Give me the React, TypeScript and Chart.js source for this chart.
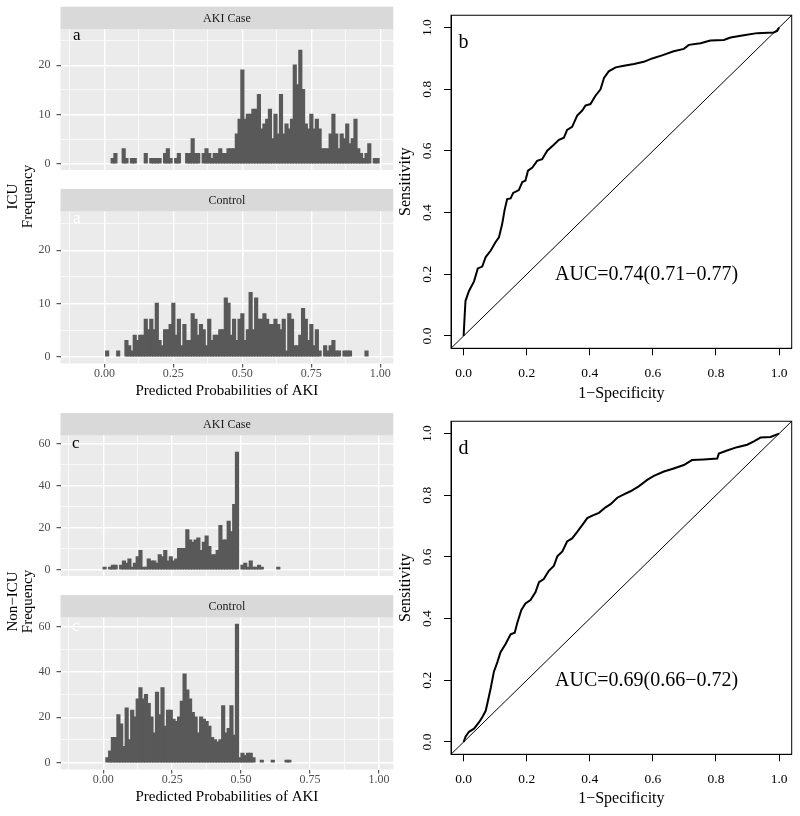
import React, { useEffect, useRef } from "react";
import { Chart, registerables } from "chart.js";

Chart.register(...registerables);
Chart.defaults.font.family = "'Liberation Serif', 'Times New Roman', serif";

// ---------- Histogram data (bin width 0.01) ----------
const binWidth = 0.01;
const icuFirstBinCenter = 0.01;
const nonIcuFirstBinCenter = 0.005;

const icuCaseCounts = [
  0, 0, 1, 2, 0, 0, 3, 1, 0, 1,
  1, 0, 0, 0, 2, 0, 1, 1, 1, 1,
  0, 2, 3, 1, 0, 1, 2, 0, 0, 2,
  2, 5, 2, 2, 0, 2, 3, 2, 1, 2,
  2, 3, 2, 2, 3, 3, 3, 6, 9, 19,
  9, 10, 10, 11, 11, 14, 7, 8, 9, 11,
  5, 10, 6, 14, 6, 8, 7, 9, 20, 16,
  23, 15, 8, 7, 10, 7, 9, 7, 3, 3,
  3, 6, 10, 6, 3, 6, 5, 8, 4, 5,
  9, 3, 2, 1, 2, 4, 0, 1, 1, 0,
];

const icuControlCounts = [
  1, 0, 0, 0, 1, 0, 0, 3, 2, 1,
  4, 3, 4, 4, 7, 5, 7, 5, 10, 3,
  2, 5, 5, 6, 10, 4, 7, 2, 6, 3,
  3, 8, 7, 4, 6, 5, 2, 7, 3, 4,
  4, 5, 5, 11, 10, 4, 7, 3, 7, 8,
  3, 5, 12, 5, 11, 7, 7, 8, 7, 6,
  6, 7, 6, 5, 7, 1, 8, 7, 2, 2,
  4, 9, 7, 3, 6, 2, 5, 1, 0, 2,
  1, 2, 3, 1, 1, 0, 1, 1, 1, 0,
  0, 0, 0, 0, 1, 0, 0, 0, 0, 0,
];

const nonIcuCaseCounts = [
  1, 0, 1, 2, 2, 0, 2, 4, 3, 5,
  1, 3, 6, 9, 1, 1, 5, 4, 4, 3,
  7, 6, 9, 4, 6, 4, 5, 10, 10, 10,
  19, 14, 13, 14, 15, 9, 13, 16, 11, 7,
  7, 9, 21, 14, 14, 23, 18, 31, 56, 0,
  2, 3, 1, 4, 1, 1, 2, 1, 0, 0,
  0, 0, 0, 1,
];

const nonIcuControlCounts = [
  0, 2, 5, 11, 11, 21, 17, 7, 24, 10,
  23, 20, 28, 33, 28, 30, 26, 20, 13, 31,
  21, 33, 16, 23, 23, 19, 18, 20, 27, 39,
  32, 28, 22, 20, 13, 20, 19, 18, 16, 11,
  10, 9, 10, 25, 13, 15, 25, 12, 61, 2,
  4, 3, 4, 4, 2, 0, 0, 1, 0, 0,
  0, 1, 0, 0, 0, 0, 1, 1,
];

const histXMajor = [0, 0.25, 0.5, 0.75, 1];
const histXMinor = [-0.125, 0.125, 0.375, 0.625, 0.875];
const icuYMajor = [0, 10, 20];
const icuYMinor = [5, 15, 25];
const nonIcuYMajor = [0, 20, 40, 60];
const nonIcuYMinor = [10, 30, 50];
const icuYRange = [-1.3, 27.3];
const nonIcuYRange = [-3.05, 64.05];
const icuXRange = [-0.159, 1.047];
const nonIcuXRange = [-0.155, 1.052];
const icuTagPos = [-0.1, 26];
const nonIcuTagPos = [-0.1, 60];

// ---------- ROC data ----------
const rocTicks = [0, 0.2, 0.4, 0.6, 0.8, 1.0];
const rocRange = [-0.04, 1.04];
const icuRocFpr = [0, 0.003, 0.006, 0.017, 0.033, 0.045, 0.059, 0.07, 0.086, 0.101, 0.112, 0.122, 0.13, 0.138, 0.149, 0.157, 0.175, 0.186, 0.196, 0.204, 0.218, 0.233, 0.249, 0.265, 0.286, 0.302, 0.318, 0.328, 0.344, 0.36, 0.376, 0.386, 0.402, 0.418, 0.434, 0.445, 0.46, 0.482, 0.508, 0.54, 0.571, 0.598, 0.629, 0.666, 0.698, 0.714, 0.751, 0.782, 0.825, 0.846, 0.888, 0.93, 0.983, 0.994, 1];
const icuRocTpr = [0, 0.06, 0.114, 0.146, 0.177, 0.219, 0.225, 0.256, 0.277, 0.304, 0.32, 0.362, 0.409, 0.444, 0.446, 0.464, 0.473, 0.499, 0.504, 0.536, 0.546, 0.568, 0.573, 0.601, 0.62, 0.636, 0.643, 0.668, 0.678, 0.715, 0.731, 0.747, 0.752, 0.779, 0.8, 0.837, 0.858, 0.871, 0.876, 0.882, 0.889, 0.9, 0.91, 0.923, 0.931, 0.944, 0.949, 0.958, 0.96, 0.968, 0.975, 0.982, 0.984, 0.989, 1];
const nonIcuRocFpr = [0, 0.006, 0.017, 0.033, 0.049, 0.059, 0.07, 0.077, 0.086, 0.096, 0.107, 0.117, 0.133, 0.149, 0.162, 0.17, 0.183, 0.196, 0.212, 0.228, 0.239, 0.254, 0.27, 0.286, 0.297, 0.313, 0.328, 0.344, 0.36, 0.376, 0.392, 0.408, 0.429, 0.45, 0.466, 0.487, 0.508, 0.529, 0.555, 0.582, 0.603, 0.635, 0.666, 0.698, 0.724, 0.761, 0.804, 0.809, 0.835, 0.867, 0.899, 0.92, 0.941, 0.973, 1];
const nonIcuRocTpr = [0, 0.017, 0.033, 0.043, 0.064, 0.08, 0.101, 0.133, 0.175, 0.228, 0.259, 0.291, 0.318, 0.349, 0.354, 0.386, 0.428, 0.449, 0.46, 0.486, 0.518, 0.528, 0.555, 0.571, 0.602, 0.618, 0.65, 0.66, 0.681, 0.703, 0.726, 0.734, 0.743, 0.761, 0.771, 0.792, 0.803, 0.813, 0.829, 0.85, 0.863, 0.877, 0.887, 0.898, 0.914, 0.916, 0.919, 0.935, 0.945, 0.956, 0.964, 0.975, 0.987, 0.989, 1];
const icuAucLabel = "AUC=0.74(0.71\u22120.77)";
const nonIcuAucLabel = "AUC=0.69(0.66\u22120.72)";
const rocTagPos = [0, 0.95];
const aucPos = [0.58, 0.2];

const SERIF = "'Liberation Serif', 'Times New Roman', serif";
const isIn = (arr: number[], v: number) => arr.some((m) => Math.abs(m - v) < 1e-9);

type HistOpts = {
  counts: number[];
  firstCenter: number;
  xRange: number[];
  yRange: number[];
  yMajor: number[];
  yMinor: number[];
  strip: string;
  stripHeight: number;
  tag: string;
  tagColor: string;
  tagPos: number[];
  showX: boolean;
  padTop: number;
  padBottom: number;
  xHeight: number;
  titlePadBottom: number;
  groupTitle?: { lines: string[]; xs: number[]; cy: number };
};

function histConfig(o: HistOpts): any {
  const data = o.counts
    .map((c, i) => ({ x: o.firstCenter + i * binWidth, y: c }))
    .filter((d) => d.y > 0);
  const xTickVals = [...histXMinor, ...histXMajor].sort((a, b) => a - b);
  const yTickVals = [...o.yMinor, ...o.yMajor].sort((a, b) => a - b);
  const plugin = {
    id: "ggPanel",
    beforeDraw(chart: any) {
      const { ctx, chartArea: a } = chart;
      ctx.save();
      ctx.fillStyle = "#EBEBEB";
      ctx.fillRect(a.left, a.top, a.right - a.left, a.bottom - a.top);
      ctx.fillStyle = "#D9D9D9";
      ctx.fillRect(a.left, a.top - o.stripHeight, a.right - a.left, o.stripHeight);
      ctx.fillStyle = "#1A1A1A";
      ctx.font = `12px ${SERIF}`;
      ctx.textAlign = "center";
      ctx.textBaseline = "middle";
      ctx.fillText(o.strip, (a.left + a.right) / 2, a.top - o.stripHeight / 2 + 0.5);
      ctx.restore();
    },
    afterDatasetsDraw(chart: any) {
      const { ctx, scales } = chart;
      ctx.save();
      ctx.fillStyle = o.tagColor;
      ctx.font = `17px ${SERIF}`;
      ctx.textAlign = "center";
      ctx.textBaseline = "middle";
      ctx.fillText(o.tag, scales.x.getPixelForValue(o.tagPos[0]), scales.y.getPixelForValue(o.tagPos[1]));
      ctx.restore();
    },
    afterDraw(chart: any) {
      if (!o.groupTitle) return;
      const { ctx } = chart;
      const g = o.groupTitle;
      ctx.save();
      ctx.fillStyle = "#000";
      ctx.font = `15px ${SERIF}`;
      ctx.textAlign = "center";
      ctx.textBaseline = "middle";
      g.lines.forEach((line, i) => {
        ctx.save();
        ctx.translate(g.xs[i], g.cy);
        ctx.rotate(-Math.PI / 2);
        ctx.fillText(line, 0, 0);
        ctx.restore();
      });
      ctx.restore();
    },
  };
  return {
    type: "bar",
    data: {
      datasets: [
        {
          data,
          backgroundColor: "#595959",
          borderWidth: 0,
          barPercentage: 1,
          categoryPercentage: 1,
          inflateAmount: 0.7,
        },
      ],
    },
    options: {
      animation: false,
      responsive: false,
      maintainAspectRatio: false,
      events: [],
      layout: { padding: { top: o.padTop, bottom: o.padBottom, left: 0, right: 0.7 } },
      plugins: { legend: { display: false }, tooltip: { enabled: false } },
      scales: {
        x: {
          type: "linear",
          min: o.xRange[0],
          max: o.xRange[1],
          bounds: "data",
          offset: false,
          afterBuildTicks: (s: any) => {
            s.ticks = xTickVals.map((v) => ({ value: v }));
          },
          afterFit: (s: any) => {
            s.height = o.xHeight;
          },
          ticks: {
            display: o.showX,
            autoSkip: false,
            maxRotation: 0,
            minRotation: 0,
            padding: 0,
            color: "#4D4D4D",
            font: { size: 12, family: SERIF, lineHeight: 1 },
            callback: (v: number) => (isIn(histXMajor, v) ? v.toFixed(2) : ""),
          },
          grid: {
            offset: false,
            color: "#FFFFFF",
            lineWidth: (c: any) => (c.tick && isIn(histXMajor, c.tick.value) ? 1.4 : 0.7),
            drawTicks: o.showX,
            tickLength: 4,
            tickWidth: 1,
            tickColor: (c: any) => (c.tick && isIn(histXMajor, c.tick.value) ? "#333333" : "rgba(0,0,0,0)"),
          },
          border: { display: false },
          title: {
            display: o.showX,
            text: "Predicted Probabilities of AKI",
            color: "#000",
            font: { size: 15, family: SERIF, lineHeight: 1 },
            padding: { top: 0, bottom: o.titlePadBottom },
          },
        },
        y: {
          type: "linear",
          min: o.yRange[0],
          max: o.yRange[1],
          bounds: "data",
          afterBuildTicks: (s: any) => {
            s.ticks = yTickVals.map((v) => ({ value: v }));
          },
          afterFit: (s: any) => {
            s.width = 60.5;
          },
          ticks: {
            autoSkip: false,
            padding: 6,
            color: "#4D4D4D",
            font: { size: 12, family: SERIF, lineHeight: 1 },
            callback: (v: number) => (isIn(o.yMajor, v) ? String(v) : ""),
          },
          grid: {
            color: "#FFFFFF",
            lineWidth: (c: any) => (c.tick && isIn(o.yMajor, c.tick.value) ? 1.4 : 0.7),
            drawTicks: true,
            tickLength: 4,
            tickWidth: 1,
            tickColor: (c: any) => (c.tick && isIn(o.yMajor, c.tick.value) ? "#333333" : "rgba(0,0,0,0)"),
          },
          border: { display: false },
        },
      },
    },
    plugins: [plugin],
  };
}

type RocOpts = {
  fpr: number[];
  tpr: number[];
  tag: string;
  auc: string;
  xTitlePadBottom: number;
};

function rocConfig(o: RocOpts): any {
  const curve = o.fpr.map((x, i) => ({ x, y: o.tpr[i] }));
  const diag = rocRange.map((v) => ({ x: v, y: v }));
  const plugin = {
    id: "rocDecor",
    afterDraw(chart: any) {
      const { ctx, chartArea: a, scales } = chart;
      ctx.save();
      ctx.strokeStyle = "#000";
      ctx.lineWidth = 1;
      ctx.strokeRect(a.left, a.top, a.right - a.left, a.bottom - a.top);
      ctx.fillStyle = "#000";
      ctx.font = `20px ${SERIF}`;
      ctx.textAlign = "center";
      ctx.textBaseline = "middle";
      ctx.fillText(o.tag, scales.x.getPixelForValue(rocTagPos[0]), scales.y.getPixelForValue(rocTagPos[1]));
      ctx.fillText(o.auc, scales.x.getPixelForValue(aucPos[0]), scales.y.getPixelForValue(aucPos[1]));
      ctx.restore();
    },
  };
  const common = {
    type: "linear",
    min: rocRange[0],
    max: rocRange[1],
    bounds: "data",
    afterBuildTicks: (s: any) => {
      s.ticks = rocTicks.map((v) => ({ value: v }));
    },
    grid: {
      drawOnChartArea: false,
      drawTicks: true,
      tickLength: 7,
      tickWidth: 1,
      tickColor: "#000",
    },
    border: { display: true, color: "#000", width: 1 },
  };
  return {
    type: "scatter",
    data: {
      datasets: [
        {
          data: diag,
          showLine: true,
          borderColor: "#000",
          borderWidth: 1,
          pointRadius: 0,
        },
        {
          data: curve,
          showLine: true,
          borderColor: "#000",
          borderWidth: 2,
          pointRadius: 0,
          tension: 0,
        },
      ],
    },
    options: {
      animation: false,
      responsive: false,
      maintainAspectRatio: false,
      events: [],
      layout: { padding: { top: 7.3, bottom: 0, left: 0, right: 8.3 } },
      plugins: { legend: { display: false }, tooltip: { enabled: false } },
      scales: {
        x: {
          ...common,
          afterFit: (s: any) => {
            s.height = 59.7;
          },
          ticks: {
            autoSkip: false,
            maxRotation: 0,
            minRotation: 0,
            padding: 11.3,
            color: "#000",
            font: { size: 13.5, family: SERIF, lineHeight: 1 },
            callback: (v: number) => v.toFixed(1),
          },
          title: {
            display: true,
            text: "1\u2212Specificity",
            color: "#000",
            font: { size: 16, family: SERIF, lineHeight: 1 },
            padding: { top: 0, bottom: o.xTitlePadBottom },
          },
        },
        y: {
          ...common,
          afterFit: (s: any) => {
            s.width = 61;
          },
          ticks: {
            autoSkip: false,
            minRotation: 90,
            maxRotation: 90,
            crossAlign: "center",
            padding: 8.5,
            color: "#000",
            font: { size: 13.5, family: SERIF, lineHeight: 1 },
            callback: (v: number) => v.toFixed(1),
          },
          title: {
            display: true,
            text: "Sensitivity",
            color: "#000",
            font: { size: 16, family: SERIF, lineHeight: 1 },
            padding: { top: 8, bottom: 0 },
          },
        },
      },
    },
    plugins: [plugin],
  };
}

function ChartCanvas(props: { left: number; top: number; width: number; height: number; make: () => any }) {
  const ref = useRef<HTMLCanvasElement>(null);
  useEffect(() => {
    const chart = new Chart(ref.current as HTMLCanvasElement, props.make());
    return () => chart.destroy();
  }, []);
  return (
    <canvas
      ref={ref}
      width={props.width}
      height={props.height}
      style={{ position: "absolute", left: props.left, top: props.top, width: props.width, height: props.height }}
    />
  );
}

export default function App() {
  return (
    <div style={{ position: "absolute", left: 0, top: 0, width: 800, height: 816, background: "#FFFFFF", overflow: "hidden" }}>
      <ChartCanvas
        left={0}
        top={0}
        width={394}
        height={182}
        make={() =>
          histConfig({
            counts: icuCaseCounts,
            firstCenter: icuFirstBinCenter,
            xRange: icuXRange,
            yRange: icuYRange,
            yMajor: icuYMajor,
            yMinor: icuYMinor,
            strip: "AKI Case",
            stripHeight: 22.6,
            tag: "a",
            tagColor: "#000000",
            tagPos: icuTagPos,
            showX: false,
            padTop: 29.3,
            padBottom: 0.5,
            xHeight: 0,
            titlePadBottom: 0,
          })
        }
      />
      <ChartCanvas
        left={0}
        top={0}
        width={394}
        height={399}
        make={() =>
          histConfig({
            counts: icuControlCounts,
            firstCenter: icuFirstBinCenter,
            xRange: icuXRange,
            yRange: icuYRange,
            yMajor: icuYMajor,
            yMinor: icuYMinor,
            strip: "Control",
            stripHeight: 22.6,
            tag: "a",
            tagColor: "#FFFFFF",
            tagPos: icuTagPos,
            showX: true,
            padTop: 211.5,
            padBottom: 0,
            xHeight: 35.5,
            titlePadBottom: 0.5,
            groupTitle: { lines: ["ICU", "Frequency"], xs: [13, 28], cy: 196.5 },
          })
        }
      />
      <ChartCanvas
        left={0}
        top={400}
        width={394}
        height={188}
        make={() =>
          histConfig({
            counts: nonIcuCaseCounts,
            firstCenter: nonIcuFirstBinCenter,
            xRange: nonIcuXRange,
            yRange: nonIcuYRange,
            yMajor: nonIcuYMajor,
            yMinor: nonIcuYMinor,
            strip: "AKI Case",
            stripHeight: 22.4,
            tag: "c",
            tagColor: "#000000",
            tagPos: nonIcuTagPos,
            showX: false,
            padTop: 35.5,
            padBottom: 0.5,
            xHeight: 0,
            titlePadBottom: 0,
          })
        }
      />
      <ChartCanvas
        left={0}
        top={400}
        width={394}
        height={405}
        make={() =>
          histConfig({
            counts: nonIcuControlCounts,
            firstCenter: nonIcuFirstBinCenter,
            xRange: nonIcuXRange,
            yRange: nonIcuYRange,
            yMajor: nonIcuYMajor,
            yMinor: nonIcuYMinor,
            strip: "Control",
            stripHeight: 22.4,
            tag: "c",
            tagColor: "#FFFFFF",
            tagPos: nonIcuTagPos,
            showX: true,
            padTop: 217.5,
            padBottom: 0,
            xHeight: 35.5,
            titlePadBottom: 0.8,
            groupTitle: { lines: ["Non\u2212ICU", "Frequency"], xs: [13, 28], cy: 201.5 },
          })
        }
      />
      <ChartCanvas
        left={390}
        top={0}
        width={410}
        height={408}
        make={() =>
          rocConfig({ fpr: icuRocFpr, tpr: icuRocTpr, tag: "b", auc: icuAucLabel, xTitlePadBottom: 6.7 })
        }
      />
      <ChartCanvas
        left={390}
        top={406}
        width={410}
        height={408}
        make={() =>
          rocConfig({ fpr: nonIcuRocFpr, tpr: nonIcuRocTpr, tag: "d", auc: nonIcuAucLabel, xTitlePadBottom: 7.7 })
        }
      />
    </div>
  );
}
